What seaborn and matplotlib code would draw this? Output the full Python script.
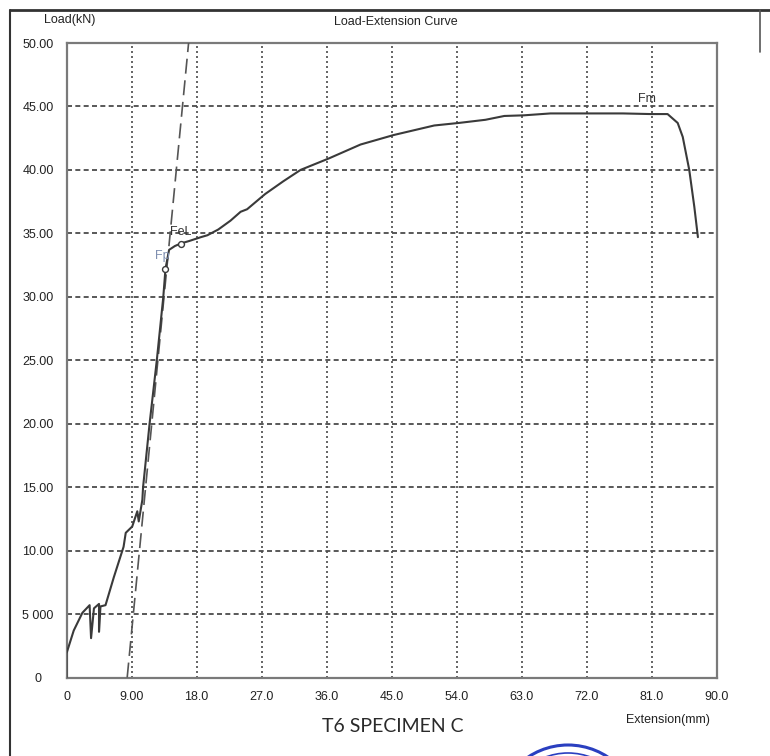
import matplotlib
matplotlib.use("Agg")
import matplotlib.pyplot as plt
import seaborn as sns
from matplotlib.lines import Line2D
from matplotlib.patches import Ellipse

# ---- data ----
ext = [0.0, 0.0, 1.0, 2.2, 3.2, 3.4, 3.8, 4.5, 4.5, 4.7, 5.4, 6.55, 7.9, 8.2, 9.1, 9.8,
       10.0, 10.5, 10.6, 11.5, 12.5, 13.4, 13.7, 14.2, 15.0, 15.8, 17.0, 18.6, 19.5, 21.0,
       22.7, 24.1, 25.0, 27.5, 30.0, 32.4, 36.3, 40.7, 45.3, 50.9, 54.3, 58.0, 60.6, 63.3,
       67.0, 72.3, 77.0, 80.9, 83.2, 84.6, 85.3, 86.2, 86.9, 87.4]
load = [0.0, 1.9, 3.7, 5.1, 5.7, 3.1, 5.45, 5.8, 3.6, 5.6, 5.7, 7.9, 10.3, 11.4, 11.9, 13.1,
        12.3, 14.0, 15.0, 20.0, 25.0, 30.0, 32.2, 33.7, 34.0, 34.2, 34.4, 34.7, 34.85, 35.3,
        36.0, 36.7, 36.9, 38.1, 39.1, 40.0, 40.9, 42.0, 42.75, 43.5, 43.7, 43.95, 44.25, 44.3,
        44.45, 44.45, 44.45, 44.4, 44.4, 43.7, 42.6, 40.0, 37.1, 34.7]

elastic_ext = [8.4, 16.9]
elastic_load = [0.0, 50.0]

marker_names = ["Fp", "FeL"]
marker_ext = [13.7, 15.8]
marker_load = [32.2, 34.2]

x_ticks = [0, 9, 18, 27, 36, 45, 54, 63, 72, 81, 90]
x_ticklabels = ["0", "9.00", "18.0", "27.0", "36.0", "45.0", "54.0", "63.0", "72.0", "81.0", "90.0"]
y_ticks = [0, 5, 10, 15, 20, 25, 30, 35, 40, 45, 50]
y_ticklabels = ["0", "5 000", "10.00", "15.00", "20.00", "25.00", "30.00", "35.00",
                "40.00", "45.00", "50.00"]

# ---- figure ----
sns.set_style("white")
plt.rcParams['font.family'] = ['Liberation Sans', 'DejaVu Sans']

W, H = 770, 756
fig = plt.figure(figsize=(W / 100, H / 100), dpi=100)
x0, x1, ytop, ybot = 66.5, 716.7, 43, 677.5
ax = fig.add_axes([x0 / W, 1 - ybot / H, (x1 - x0) / W, (ybot - ytop) / H])

curve_col = "#3a3a3a"
sns.lineplot(x=elastic_ext, y=elastic_load, ax=ax, sort=False, estimator=None,
             color="#555555", lw=1.2, zorder=3)
ax.lines[-1].set_dashes([9, 4])
sns.lineplot(x=ext, y=load, ax=ax, sort=False, estimator=None,
             color=curve_col, lw=1.5, zorder=4)
sns.scatterplot(x=marker_ext, y=marker_load, ax=ax, s=18, facecolor="white",
                edgecolor=curve_col, linewidth=1.0, zorder=5)

ax.set_xlim(0, 90)
ax.set_ylim(0, 50)
ax.set_xticks(x_ticks)
ax.set_xticklabels(x_ticklabels)
ax.set_yticks(y_ticks)
ax.set_yticklabels(y_ticklabels)
ax.set_xlabel("")
ax.set_ylabel("")

# grid: dashed horizontals, dotted verticals
for y in y_ticks[1:-1]:
    ax.axhline(y, color="#3c3c3c", lw=1.2, ls=(0, (3, 2)), zorder=1)
for x in x_ticks[1:-1]:
    ax.axvline(x, color="#4a4a4a", lw=1.2, ls=(0, (1.2, 1.8)), zorder=1)

for sp in ax.spines.values():
    sp.set_visible(True)
    sp.set_color("#7a7a7a")
    sp.set_linewidth(1.6)

ax.tick_params(axis="both", direction="out", length=4, width=1, color="#555555",
               labelsize=9, labelcolor="#222222")
ax.tick_params(axis="y", pad=16.5)
ax.tick_params(axis="x", pad=6)
for lbl in ax.get_yticklabels():
    lbl.set_horizontalalignment("center")

# annotations
ax.text(13.2, 33.2, "Fp", color="#7f8fb0", fontsize=9, ha="center", va="center", zorder=6)
ax.text(15.8, 35.1, "FeL", color="#333333", fontsize=9, ha="center", va="center", zorder=6)
ax.text(80.4, 45.6, "Fm", color="#333333", fontsize=9, ha="center", va="center", zorder=6)

# titles / axis names
fig.text(70 / W, 1 - 20 / H, "Load(kN)", fontsize=9, ha="center", va="center", color="#222222")
fig.text(396 / W, 1 - 22 / H, "Load-Extension Curve", fontsize=9, ha="center", va="center",
         color="#222222")
fig.text(668 / W, 1 - 720 / H, "Extension(mm)", fontsize=9, ha="center", va="center",
         color="#222222")
fig.text(393 / W, 1 - 727 / H, "T6 SPECIMEN C", fontsize=14, ha="center", va="center",
         color="#2a2a2a", family=["Lato", "DejaVu Sans"])

# scanned page border lines
fig.add_artist(Line2D([10 / W, 1.0], [1 - 10 / H, 1 - 10 / H], transform=fig.transFigure,
                      color="#333333", lw=2))
fig.add_artist(Line2D([10 / W, 10 / W], [1 - 10 / H, 0], transform=fig.transFigure,
                      color="#333333", lw=1.5))
fig.add_artist(Line2D([760 / W, 760 / W], [1 - 10 / H, 1 - 52 / H], transform=fig.transFigure,
                      color="#555555", lw=1.2))

# partial stamp at the bottom
cx, cy = 568 / W, 1 - 817 / H
for r, lw in [(72, 2.2), (64, 1.2)]:
    fig.add_artist(Ellipse((cx, cy), 2 * r / W, 2 * r / H, transform=fig.transFigure,
                           fill=False, edgecolor="#2a3fc0", lw=lw))

fig.savefig("out.png", dpi=100)
